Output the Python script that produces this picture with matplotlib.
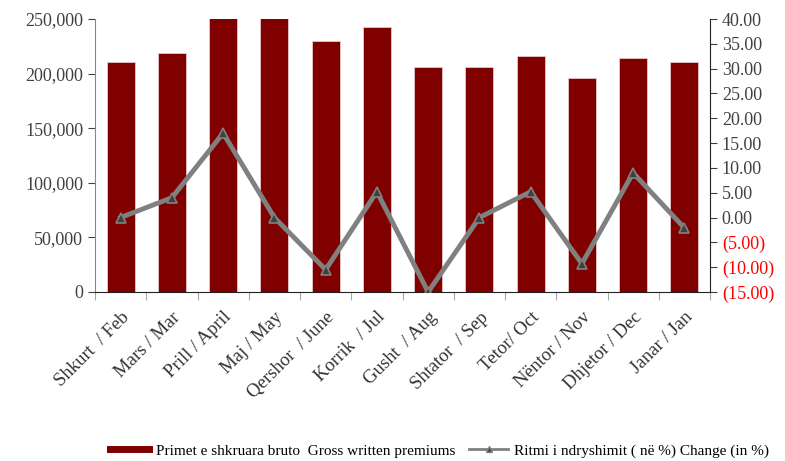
import matplotlib.pyplot as plt
import numpy as np
from matplotlib.ticker import FuncFormatter, FixedLocator
from matplotlib.lines import Line2D

plt.rcParams['font.family'] = ['Liberation Serif', 'DejaVu Serif']

months = ['Shkurt  / Feb', 'Mars / Mar', 'Prill / April', 'Maj / May', 'Qershor  / June',
          'Korrik  / Jul', 'Gusht  / Aug', 'Shtator  / Sep', 'Tetor/ Oct', 'Nëntor / Nov',
          'Dhjetor / Dec', 'Janar / Jan']
premiums = [210600, 218900, 262000, 258000, 230000, 242700, 206000, 205600, 216400, 196000, 214000, 210600]
change = [0.0, 4.0, 17.0, 0.0, -10.5, 5.2, -15.0, 0.0, 5.2, -9.3, 9.0, -2.1]

bar_label = 'Primet e shkruara bruto  Gross written premiums'
line_label = 'Ritmi i ndryshimit ( në %) Change (in %)'

fig = plt.figure(figsize=(7.85, 4.61), dpi=100)
ax = fig.add_axes([95 / 785, 1 - 292 / 461, 615 / 785, 273 / 461])
ax2 = ax.twinx()

x = np.arange(len(months))
ax.bar(x, premiums, width=0.55, color='#800000', edgecolor='#e8c8c8', linewidth=0.6, zorder=2)
ax.set_ylim(0, 250000)
ax.set_xlim(-0.5, len(months) - 0.5)
ax.set_yticks(np.arange(0, 250001, 50000))
ax.yaxis.set_major_formatter(FuncFormatter(lambda v, p: f'{int(v):,}'))
ax.tick_params(axis='y', labelsize=13, colors='#404040', length=5, width=0.8, direction='out')
ax.set_xticks(x)
ax.set_xticklabels(months, rotation=45, ha='right', rotation_mode='anchor', fontsize=13.5, color='#333333')
ax.tick_params(axis='x', length=0, pad=12)
ax.xaxis.set_minor_locator(FixedLocator(np.arange(-0.5, len(months), 1)))
ax.tick_params(axis='x', which='minor', length=6, color='#aaaaaa', width=0.8)
ax.spines['top'].set_visible(False)
ax.spines['right'].set_visible(False)
ax.spines['left'].set_color('#888888')
ax.spines['bottom'].set_color('#222222')

ax2.plot(x, change, color='#808080', linewidth=3.5, marker='^', markersize=7.5,
         markerfacecolor='#404040', markeredgecolor='#808080', markeredgewidth=1.2,
         zorder=3)
ax2.set_ylim(-15, 40)
ax2.set_yticks(np.arange(-15, 40.1, 5))


def fmt(v, p):
    if v < 0:
        return f'({abs(v):.2f})'
    return f'{v:.2f}'


ax2.yaxis.set_major_formatter(FuncFormatter(fmt))
ax2.tick_params(axis='y', labelsize=13, colors='#404040', length=5, width=0.8)
for lbl, v in zip(ax2.get_yticklabels(), ax2.get_yticks()):
    if v < 0:
        lbl.set_color('red')
ax2.spines['top'].set_visible(False)
ax2.spines['left'].set_visible(False)
ax2.spines['bottom'].set_visible(False)
ax2.spines['right'].set_color('#222222')

handles = [Line2D([], [], color='#800000', linewidth=5),
           Line2D([], [], color='#808080', linewidth=2, marker='^', markersize=5,
                  markerfacecolor='#404040', markeredgecolor='#808080')]
fig.legend(handles, [bar_label, line_label], loc='center', bbox_to_anchor=(0.56, 1 - 451 / 461), ncol=2,
           frameon=False, fontsize=11, handlelength=2.6, columnspacing=0.9, handletextpad=0.4,
           borderpad=0.1)

fig.savefig('out.png', dpi=100)
